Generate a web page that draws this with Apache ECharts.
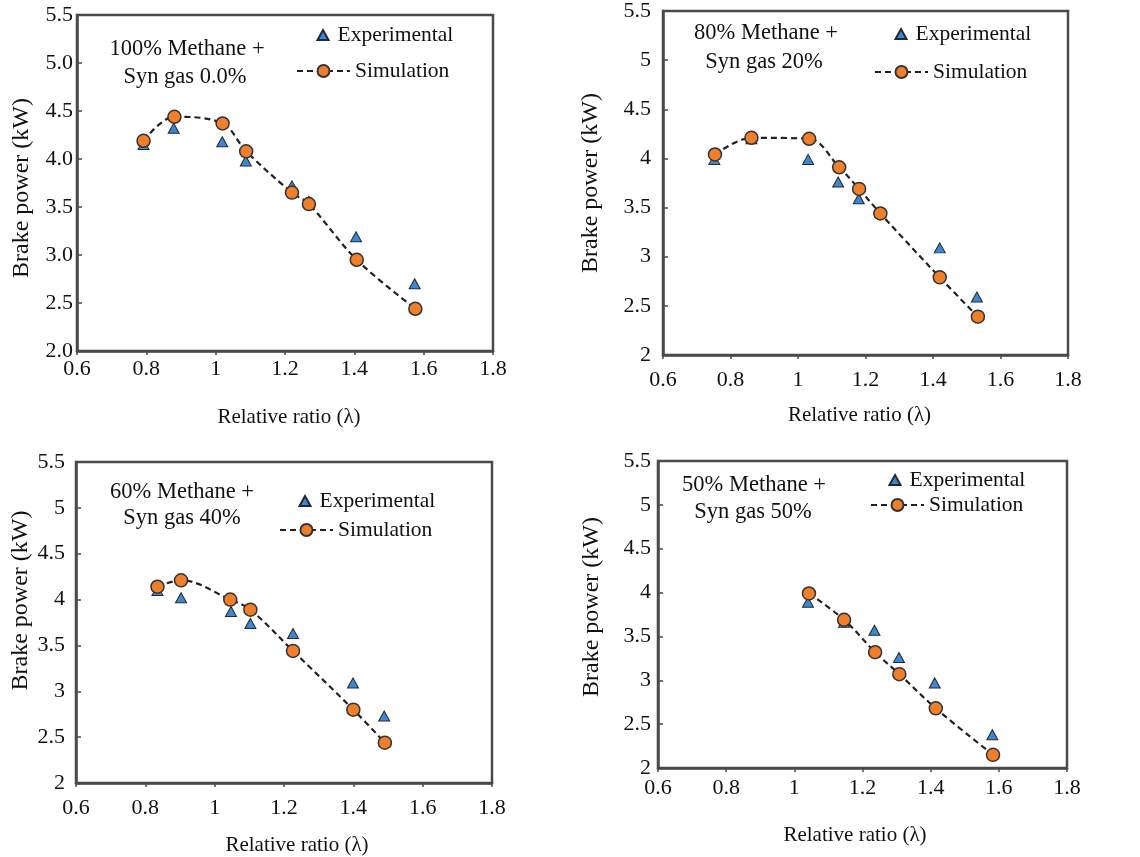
<!DOCTYPE html>
<html>
<head>
<meta charset="utf-8">
<script src="https://cdn.jsdelivr.net/npm/echarts@6/dist/echarts.min.js"></script>
<style>
html,body{margin:0;padding:0;background:#fff;}
#chart{width:1140px;height:857px;}
</style>
</head>
<body>
<div id="chart"></div>
<script>
// ---- Data ----
const xTicks = [0.6, 0.8, 1.0, 1.2, 1.4, 1.6, 1.8];
const yTicks = [2, 2.5, 3, 3.5, 4, 4.5, 5, 5.5];

const p1Label = ['100% Methane +', 'Syn gas 0.0%'];
const p1ExpX = [0.792, 0.879, 1.019, 1.087, 1.220, 1.269, 1.405, 1.574];
const p1ExpY = [4.15, 4.32, 4.18, 3.98, 3.72, 3.56, 3.19, 2.70];
const p1SimX = [0.792, 0.881, 1.020, 1.088, 1.220, 1.269, 1.407, 1.576];
const p1SimY = [4.19, 4.44, 4.37, 4.08, 3.65, 3.53, 2.95, 2.44];

const p2Label = ['80% Methane +', 'Syn gas 20%'];
const p2ExpX = [0.752, 0.862, 1.030, 1.119, 1.180, 1.244, 1.420, 1.530];
const p2ExpY = [3.99, 4.20, 3.99, 3.76, 3.59, 3.45, 3.09, 2.59];
const p2SimX = [0.754, 0.862, 1.033, 1.122, 1.181, 1.244, 1.420, 1.533];
const p2SimY = [4.04, 4.21, 4.20, 3.91, 3.69, 3.44, 2.79, 2.39];

const p3Label = ['60% Methane +', 'Syn gas 40%'];
const p3ExpX = [0.835, 0.903, 1.047, 1.103, 1.226, 1.399, 1.489];
const p3ExpY = [4.10, 4.02, 3.87, 3.74, 3.63, 3.09, 2.73];
const p3SimX = [0.835, 0.903, 1.045, 1.103, 1.226, 1.400, 1.491];
const p3SimY = [4.14, 4.21, 4.00, 3.89, 3.44, 2.80, 2.44];

const p4Label = ['50% Methane +', 'Syn gas 50%'];
const p4ExpX = [1.040, 1.146, 1.235, 1.307, 1.412, 1.581];
const p4ExpY = [3.89, 3.66, 3.57, 3.26, 2.97, 2.38];
const p4SimX = [1.043, 1.146, 1.237, 1.308, 1.415, 1.583];
const p4SimY = [3.99, 3.69, 3.32, 3.07, 2.68, 2.15];

const seriesNames = ['Experimental', 'Simulation'];
const xTitle = 'Relative ratio (λ)';
const yTitle = 'Brake power (kW)';

// ---- Layout / style ----
const FONT = '"Liberation Serif", "Times New Roman", serif';
const FS_TICK = 22;
const FS_YT = 24;
const FS_XT = 21;
const FS_ANN = 22.5;
const FS_LEG = 21.5;
const TXT = '#111';
const BORDER = '#4a4a4a';
const BLUE = '#3f88cf';
const ORANGE = '#f07f2c';

const layout = [
  {grid:{left:77, top:15, width:416, height:336}, xMargin:7, yMargin:4, yGap:43, yPad:[0,10,0,0], xGap:56, xPad:[0,0,0,8], yDec:true,
   ann:[187,49,185,77], leg:{e:[316.5,24], s:[296,60]}},
  {grid:{left:663, top:8, width:405, height:347}, xMargin:14, yMargin:12, yGap:60, yPad:[0,0,0,0], xGap:50, xPad:[0,12,0,0], yDec:false,
   ann:[766,33,764,62], leg:{e:[894.5,23], s:[874,61]}},
  {grid:{left:76, top:462, width:416, height:321}, xMargin:14, yMargin:11, yGap:43, yPad:[0,0,0,44], xGap:52, xPad:[0,0,0,26], yDec:false,
   ann:[182,492,182,518], leg:{e:[298.5,490], s:[279,519]}},
  {grid:{left:658, top:461, width:409, height:307}, xMargin:9, yMargin:7, yGap:54, yPad:[0,0,0,15], xGap:57, xPad:[0,15,0,0], yDec:false,
   ann:[754,485,753,512], leg:{e:[888.5,469], s:[870,494]}}
];

const panels = [
  {label:p1Label, ex:p1ExpX, ey:p1ExpY, sx:p1SimX, sy:p1SimY},
  {label:p2Label, ex:p2ExpX, ey:p2ExpY, sx:p2SimX, sy:p2SimY},
  {label:p3Label, ex:p3ExpX, ey:p3ExpY, sx:p3SimX, sy:p3SimY},
  {label:p4Label, ex:p4ExpX, ey:p4ExpY, sx:p4SimX, sy:p4SimY}
];

const zip = (a, b) => a.map((v, i) => [v, b[i]]);
const fmtNum = v => String(parseFloat(v.toFixed(1)));

const grids = [], xAxes = [], yAxes = [], series = [], legends = [], graphics = [];

panels.forEach((p, i) => {
  const L = layout[i];
  grids.push(Object.assign({show:true, borderColor:BORDER, borderWidth:2.5, backgroundColor:'transparent'}, L.grid));
  xAxes.push({
    type:'value', gridIndex:i, min:xTicks[0], max:xTicks[xTicks.length-1], interval:0.2,
    name:xTitle, nameLocation:'middle', nameGap:L.xGap,
    nameTextStyle:{fontFamily:FONT, fontSize:FS_XT, color:TXT, padding:L.xPad},
    axisLine:{show:true, onZero:false, lineStyle:{color:BORDER, width:2.5}},
    axisTick:{show:true, inside:false, length:4, lineStyle:{color:BORDER, width:1.5}},
    axisLabel:{fontFamily:FONT, fontSize:FS_TICK, color:TXT, margin:L.xMargin, formatter:fmtNum},
    splitLine:{show:false}
  });
  yAxes.push({
    type:'value', gridIndex:i, min:yTicks[0], max:yTicks[yTicks.length-1], interval:0.5,
    name:yTitle, nameLocation:'middle', nameGap:L.yGap, nameRotate:90,
    nameTextStyle:{fontFamily:FONT, fontSize:FS_YT, color:TXT, padding:L.yPad},
    axisLine:{show:true, onZero:false, lineStyle:{color:BORDER, width:2.5}},
    axisTick:{show:true, inside:true, length:5, lineStyle:{color:BORDER, width:1.5}},
    axisLabel:{fontFamily:FONT, fontSize:FS_TICK, color:TXT, margin:L.yMargin,
      formatter: v => L.yDec ? v.toFixed(1) : fmtNum(v)},
    splitLine:{show:false}
  });
  series.push({
    name:seriesNames[0], type:'scatter', xAxisIndex:i, yAxisIndex:i,
    symbol:'triangle', symbolSize:[11,10], z:3,
    itemStyle:{color:BLUE, borderColor:'#1f2a36', borderWidth:1, opacity:1},
    data:zip(p.ex, p.ey)
  });
  series.push({
    name:seriesNames[1], type:'line', xAxisIndex:i, yAxisIndex:i,
    smooth:0.35, symbol:'circle', symbolSize:13, showAllSymbol:true, z:4,
    lineStyle:{color:'#222', width:2.2, type:[6,4]},
    itemStyle:{color:ORANGE, borderColor:'#333', borderWidth:1.5},
    data:zip(p.sx, p.sy)
  });
  legends.push({
    data:[seriesNames[0]], left:L.leg.e[0], top:L.leg.e[1], orient:'vertical',
    itemWidth:11, itemHeight:10, padding:0, itemGap:0, selectedMode:false,
    textStyle:{fontFamily:FONT, fontSize:FS_LEG, color:TXT, padding:[0,0,0,4]}
  });
  legends.push({
    data:[seriesNames[1]], left:L.leg.s[0], top:L.leg.s[1], orient:'vertical',
    itemWidth:53, itemHeight:15, padding:0, itemGap:0, selectedMode:false,
    textStyle:{fontFamily:FONT, fontSize:FS_LEG, color:TXT}
  });
  graphics.push({type:'text', x:L.ann[0], y:L.ann[1],
    style:{text:p.label[0], font:FS_ANN+'px '+FONT, fill:TXT, textAlign:'center', textVerticalAlign:'middle'}});
  graphics.push({type:'text', x:L.ann[2], y:L.ann[3],
    style:{text:p.label[1], font:FS_ANN+'px '+FONT, fill:TXT, textAlign:'center', textVerticalAlign:'middle'}});
});

const chart = echarts.init(document.getElementById('chart'), null, {renderer:'canvas'});
chart.setOption({
  backgroundColor:'#fff',
  animation:false,
  grid:grids, xAxis:xAxes, yAxis:yAxes, series:series, legend:legends, graphic:graphics
});
</script>
</body>
</html>
